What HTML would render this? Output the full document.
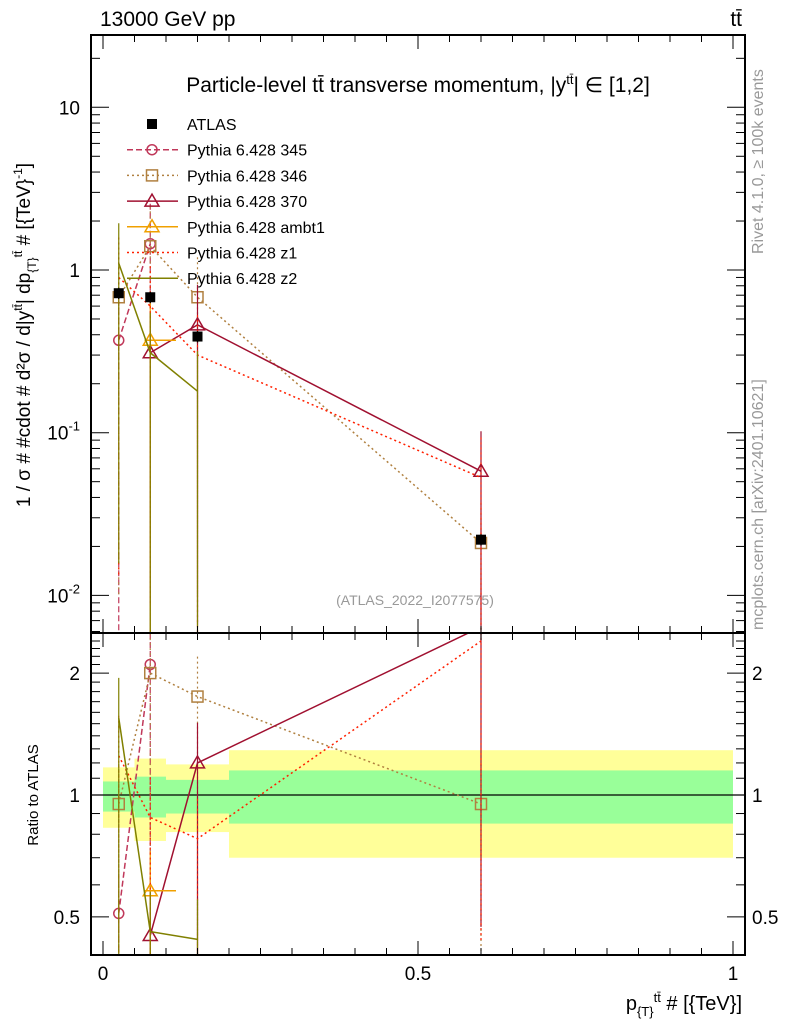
<!DOCTYPE html>
<html><head><meta charset="utf-8"><style>
html,body{margin:0;background:#fff;width:786px;height:1024px;overflow:hidden;}
svg{display:block;font-family:"Liberation Sans",sans-serif;overflow:hidden;}
</style></head><body>
<svg id="c" width="786" height="1024" viewBox="0 0 786 1024" xmlns="http://www.w3.org/2000/svg">
<text x="100" y="26" font-size="21">13000 GeV pp</text>
<text x="742" y="26" font-size="21" text-anchor="end">tt̄</text>
<text x="418" y="92" font-size="21" text-anchor="middle">Particle-level tt̄ transverse momentum, |y<tspan font-size="13" dy="-8">tt̄</tspan><tspan dy="8">| ∈ [1,2]</tspan></text>
<text x="415" y="605" font-size="14" fill="#999" text-anchor="middle">(ATLAS_2022_I2077575)</text>
<text transform="translate(763,254) rotate(-90)" font-size="16" fill="#999">Rivet 4.1.0, ≥ 100k events</text>
<text transform="translate(763,630) rotate(-90)" font-size="16" fill="#999">mcplots.cern.ch [arXiv:2401.10621]</text>
<text transform="translate(30,335) rotate(-90)" font-size="19" text-anchor="middle">1 / σ # #cdot # d²σ / d|y<tspan font-size="12" dy="-8">tt̄</tspan><tspan dy="8">| dp</tspan><tspan font-size="12" dy="6">{T}</tspan><tspan font-size="12" dy="-14">tt̄</tspan><tspan dy="8"> # [{TeV}</tspan><tspan font-size="12" dy="-8">-1</tspan><tspan dy="8">]</tspan></text>
<text transform="translate(38,795) rotate(-90)" font-size="15" text-anchor="middle">Ratio to ATLAS</text>
<text x="742" y="1010" font-size="20" text-anchor="end">p<tspan font-size="13" dy="6">{T}</tspan><tspan font-size="13" dy="-14">tt̄</tspan><tspan dy="8"> # [{TeV}]</tspan></text>
<g id="plot"></g>
</svg>
<script>
const xCenters=[0.025,0.075,0.15,0.6];
const xEdges=[0,0.05,0.1,0.2,1.0];
const atlas=[0.72,0.68,0.39,0.022];
const p345=[0.37,1.45,null,null];
const p346=[0.68,1.4,0.68,0.021];
const p370=[null,0.31,0.46,0.058];
const pambt1=[null,0.37,null,null];
const pz1=[0.9,0.6,0.3,0.053];
const pz2=[1.1,0.31,0.18,null];
const r345=[0.51,2.1,null,null];
const r346=[0.95,2.0,1.75,0.95];
const r370=[null,0.45,1.2,2.6];
const rambt1=[null,0.58,null,null];
const rz1=[1.25,0.88,0.78,2.4];
const rz2=[1.55,0.46,0.44,null];
const totUp=[1.17,1.23,1.19,1.29];
const totDn=[0.83,0.77,0.81,0.70];
const statUp=[1.08,1.11,1.09,1.15];
const statDn=[0.91,0.88,0.90,0.85];
const xTicks=[0,0.5,1];
const xTickLabels=["0","0.5","1"];
const yTicks=[0.01,0.1,1,10];
const rTicks=[0.5,1,2];

const L=91,R=745,T1=35,B1=633,B2=955;
const X=v=>103+630*v;
const Y=v=>270-162.7*Math.log10(v);
const YR=v=>795-405*Math.log10(v);
const NS="http://www.w3.org/2000/svg";
const g=document.getElementById('plot');
function mk(tag,a,parent){const e=document.createElementNS(NS,tag);for(const k in a)e.setAttribute(k,a[k]);(parent||g).appendChild(e);return e;}

for(let i=0;i<4;i++){
 const b=mk('rect',{x:X(xEdges[i]),y:YR(totUp[i]),width:X(xEdges[i+1])-X(xEdges[i]),height:YR(totDn[i])-YR(totUp[i]),fill:'#ffff99'});
 
 
 const s=mk('rect',{x:X(xEdges[i]),y:YR(statUp[i]),width:X(xEdges[i+1])-X(xEdges[i]),height:YR(statDn[i])-YR(statUp[i]),fill:'#99ff99'});
 
 
}
const one=mk('line',{x1:L,x2:R,y1:YR(1),y2:YR(1),stroke:'#000','stroke-width':1.2});



const series=[
 {name:'pythia-345',v:p345,r:r345,c:'#c0385a',dash:'6,3',m:'circle'},
 {name:'pythia-346',v:p346,r:r346,c:'#b08040',dash:'2,3',m:'square'},
 {name:'pythia-370',v:p370,r:r370,c:'#a01030',dash:'',m:'tri'},
 {name:'pythia-ambt1',v:pambt1,r:rambt1,c:'#f0a000',dash:'',m:'tri'},
 {name:'pythia-z1',v:pz1,r:rz1,c:'#ff2000',dash:'2,3',m:'dot'},
 {name:'pythia-z2',v:pz2,r:rz2,c:'#808000',dash:'',m:'none'}
];
function marker(type,x,y,c,name,grp){
 let e;
 if(type==='circle')e=mk('circle',{cx:x,cy:y,r:5,fill:'none',stroke:c,'stroke-width':1.5},grp);
 else if(type==='square')e=mk('rect',{x:x-5.5,y:y-5.5,width:11,height:11,fill:'none',stroke:c,'stroke-width':1.5},grp);
 else if(type==='tri')e=mk('polygon',{points:`${x},${y-7} ${x-7},${y+5} ${x+7},${y+5}`,fill:'none',stroke:c,'stroke-width':1.5},grp);
 else if(type==='fsq')e=mk('rect',{x:x-5,y:y-5,width:10,height:10,fill:'#000'},grp);
 else return;
 
 
}
const defs=mk('defs',{});
const c1=mk('clipPath',{id:'cl1'},defs);mk('rect',{x:L,y:T1,width:R-L,height:B1-T1},c1);
const c2=mk('clipPath',{id:'cl2'},defs);mk('rect',{x:L,y:B1,width:R-L,height:B2-B1},c2);
const g1=mk('g',{'clip-path':'url(#cl1)'});
const g2=mk('g',{'clip-path':'url(#cl2)'});

function drawSeries(s,vals,Yf,grp,panel){
 const pts=[];
 vals.forEach((v,i)=>{if(v!=null)pts.push([X(xCenters[i]),Yf(v)]);});
 if(pts.length>1){
  const p=mk('polyline',{points:pts.map(p=>p.join(',')).join(' '),fill:'none',stroke:s.c,'stroke-width':1.5,'stroke-dasharray':s.dash},grp);
  
  
 }
 vals.forEach((v,i)=>{
  if(v==null)return;
  const x=X(xCenters[i]),y=Yf(v);
  const top=Math.max(y-40,panel==='main'?T1:B1), bot=Math.min(y+300,panel==='main'?B1:B2);
  const eb=mk('line',{x1:x,x2:x,y1:top,y2:bot,stroke:s.c,'stroke-width':1.2,'stroke-dasharray':s.dash},grp);
  
  
  if(s.name==='pythia-ambt1'){
   const h=mk('line',{x1:X(xEdges[i])+10,x2:X(xEdges[i+1])+10,y1:y,y2:y,stroke:s.c,'stroke-width':1.5},grp);
   
   
  }
  marker(s.m,x,y,s.c,s.name+'-marker',grp);
 });
}
series.forEach(s=>{drawSeries(s,s.v,Y,g1,'main');drawSeries(s,s.r,YR,g2,'ratio');});
atlas.forEach((v,i)=>{
 const x=X(xCenters[i]),y=Y(v);
 const eb=mk('line',{x1:x,x2:x,y1:Y(v*1.08),y2:Y(v*0.92),stroke:'#000','stroke-width':1.2},g1);
 
 
 marker('fsq',x,y,'#000','atlas-point',g1);
});

const f1=mk('rect',{x:L,y:T1,width:R-L,height:B1-T1,fill:'none',stroke:'#000','stroke-width':2});

const f2=mk('rect',{x:L,y:B1,width:R-L,height:B2-B1,fill:'none',stroke:'#000','stroke-width':2});


for(let v=0;v<=1.0001;v+=0.05){
 const major=Math.abs(v*2-Math.round(v*2))<1e-6;
 const len=major?14:7;
 [[T1,1],[B1,-1],[B1,1],[B2,-1]].forEach(([y0,d])=>mk('line',{x1:X(v),x2:X(v),y1:y0,y2:y0+d*len,stroke:'#000','stroke-width':1}));
}
xTicks.forEach((v,i)=>{const t=mk('text',{x:X(v),y:980,'font-size':19,'text-anchor':'middle'});t.textContent=xTickLabels[i];});
for(let d=-3;d<=1;d++){
 for(let k=1;k<10;k++){
  const v=k*Math.pow(10,d);const y=Y(v);if(y<T1||y>B1)continue;
  const len=k===1?18:9;
  mk('line',{x1:L,x2:L+len,y1:y,y2:y,stroke:'#000'});mk('line',{x1:R,x2:R-len,y1:y,y2:y,stroke:'#000'});
 }
}
yTicks.forEach(v=>{
 const t=mk('text',{x:80,y:Y(v)+7,'font-size':19,'text-anchor':'end'});
 const e=Math.log10(v);
 if(e===0)t.textContent='1';else if(e===1)t.textContent='10';else{t.textContent='10';const ts=mk('tspan',{dy:-9,'font-size':13},t);ts.textContent=String(e);}
 
});
for(let v=0.4;v<=2.5;v+=0.1){
 const y=YR(v);if(y<B1||y>B2)continue;
 const maj=[0.5,1,2].some(m=>Math.abs(m-v)<1e-6);const len=maj?18:9;
 mk('line',{x1:L,x2:L+len,y1:y,y2:y,stroke:'#000'});mk('line',{x1:R,x2:R-len,y1:y,y2:y,stroke:'#000'});
}
rTicks.forEach(v=>{
 [[80,'end'],[752,'start']].forEach(([x,a])=>{const t=mk('text',{x:x,y:YR(v)+7,'font-size':19,'text-anchor':a});t.textContent=String(v);});
});

const leg=[['ATLAS','#000','','fsq'],['Pythia 6.428 345','#c0385a','6,3','circle'],['Pythia 6.428 346','#b08040','2,3','square'],['Pythia 6.428 370','#a01030','','tri'],['Pythia 6.428 ambt1','#f0a000','','tri'],['Pythia 6.428 z1','#ff2000','2,3','dot'],['Pythia 6.428 z2','#808000','','none']];
leg.forEach((l,i)=>{
 const y=124+25.7*i;
 if(i>0){const ln=mk('line',{x1:127,x2:178,y1:y,y2:y,stroke:l[1],'stroke-width':1.5,'stroke-dasharray':l[2]});}
 marker(l[3],152,y,l[1],'legend-marker');
 const t=mk('text',{x:187,y:y+6,'font-size':16});t.textContent=l[0];
 
});
</script>
</body></html>
